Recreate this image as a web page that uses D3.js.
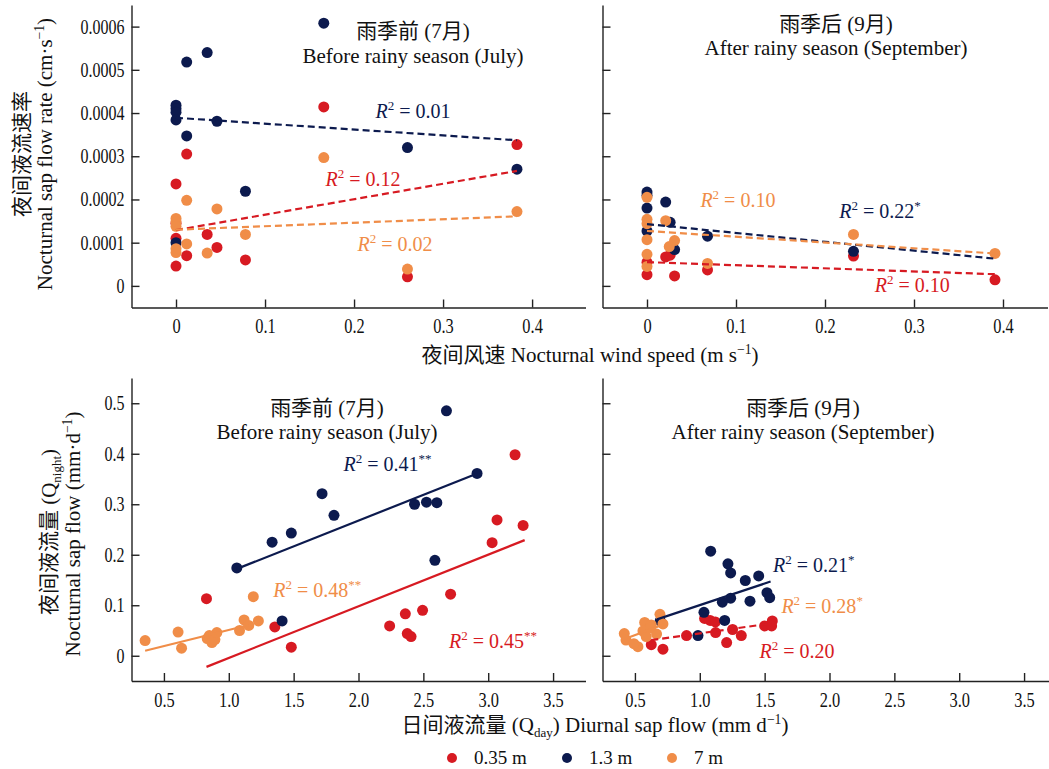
<!DOCTYPE html>
<html>
<head>
<meta charset="utf-8">
<script src="https://cdn.jsdelivr.net/npm/d3@7"></script>
<style>
  body { margin: 0; background: #fff; }
  svg text { font-family: "Liberation Serif", "Times New Roman", "Noto Sans CJK SC", serif; fill: #111; }
</style>
</head>
<body>
<svg width="1049" height="769"></svg>
<script>
// series order everywhere: 0.35 m, 1.3 m, 7 m
const depths = ["0.35 m", "1.3 m", "7 m"];
const colors = ["#d71a22", "#0c1a4e", "#f08d48"];

// nocturnal wind speed (m/s) vs nocturnal sap flow rate (cm/s)
const windJulyRed = [[0.166, 0.000414], [0.383, 0.000327], [0.012, 0.000305], [0, 0.000236], [0, 0.000145],
  [0, 0.000110], [0.035, 0.000119], [0.046, 0.000089], [0.012, 0.000070], [0.078, 0.000060], [0, 0.000046], [0.260, 0.000021]];
const windJulyNavy = [[0.166, 0.000608], [0.035, 0.000540], [0.012, 0.000518], [0, 0.000418], [0, 0.000410],
  [0, 0.000402], [0, 0.000384], [0.046, 0.000381], [0.012, 0.000347], [0.078, 0.000219], [0.260, 0.000320],
  [0.383, 0.000270], [0, 0.000100]];
const windJulyOrange = [[0.166, 0.000297], [0.012, 0.000198], [0.046, 0.000178], [0.383, 0.000172], [0, 0.000156],
  [0, 0.000148], [0, 0.000138], [0.078, 0.000119], [0.012, 0.000097], [0, 0.000086], [0, 0.000077],
  [0.035, 0.000076], [0.260, 0.000039]];
const windSepRed = [[0, 0.000026], [0, 0.000055], [0.021, 0.000067], [0.026, 0.000071], [0.031, 0.000023],
  [0.068, 0.000037], [0.232, 0.000069], [0.391, 0.000014]];
const windSepNavy = [[0, 0.000217], [0, 0.000210], [0, 0.000180], [0, 0.000127], [0.021, 0.000194], [0.026, 0.000147],
  [0.031, 0.000084], [0.068, 0.000115], [0.232, 0.000080]];
const windSepOrange = [[0, 0.000205], [0, 0.000154], [0, 0.000144], [0, 0.000107], [0, 0.000073], [0, 0.000045],
  [0.021, 0.000151], [0.031, 0.000105], [0.025, 0.000091], [0.068, 0.000052], [0.232, 0.000119], [0.391, 0.000075]];

// diurnal sap flow (mm/d) vs nocturnal sap flow (mm/d)
const dayJulyRed = [[0.828, 0.113], [1.355, 0.057], [1.482, 0.017], [2.240, 0.059], [2.361, 0.083], [2.376, 0.044],
  [2.405, 0.038], [2.494, 0.090], [2.710, 0.122], [3.030, 0.224], [3.068, 0.269], [3.207, 0.398], [3.269, 0.258]];
const dayJulyNavy = [[1.062, 0.174], [1.334, 0.225], [1.482, 0.243], [1.719, 0.321], [1.811, 0.278], [2.432, 0.300],
  [2.524, 0.304], [2.604, 0.303], [2.589, 0.189], [2.678, 0.485], [2.914, 0.361], [1.411, 0.069]];
const dayJulyOrange = [[0.355, 0.030], [0.609, 0.047], [0.636, 0.015], [0.834, 0.034], [0.850, 0.040], [0.870, 0.026],
  [0.893, 0.032], [0.908, 0.046], [1.083, 0.050], [1.118, 0.071], [1.154, 0.060], [1.189, 0.117], [1.228, 0.069]];
const daySepRed = [[1.037, 0.074], [1.080, 0.070], [1.120, 0.067], [1.500, 0.059], [1.559, 0.069], [1.554, 0.059],
  [1.253, 0.052], [1.320, 0.040], [1.122, 0.046], [1.207, 0.026], [0.898, 0.040], [0.716, 0.013], [0.626, 0.022]];
const daySepNavy = [[1.084, 0.207], [1.217, 0.182], [1.238, 0.164], [1.351, 0.149], [1.454, 0.158], [1.518, 0.125],
  [1.539, 0.115], [1.238, 0.114], [1.174, 0.106], [1.387, 0.108], [1.032, 0.086], [1.192, 0.070], [0.986, 0.040],
  [0.695, 0.069]];
const daySepOrange = [[0.693, 0.082], [0.575, 0.066], [0.626, 0.061], [0.716, 0.063], [0.562, 0.049], [0.667, 0.043],
  [0.418, 0.044], [0.431, 0.031], [0.523, 0.018], [0.492, 0.024], [0.587, 0.038], [0.620, 0.055]];

// fitted lines [x0, y0, x1, y1] per series
const windJulyFit = [[0, 0.000129, 0.383, 0.000266], [0, 0.000389, 0.383, 0.000337], [0, 0.000130, 0.383, 0.000161]];
const windSepFit = [[0, 0.000055, 0.391, 0.000027], [0, 0.000143, 0.391, 0.000063], [0, 0.000127, 0.391, 0.000075]];
const dayJulyFit = [[0.828, -0.022, 3.281, 0.229], [1.062, 0.172, 2.896, 0.359], [0.355, 0.010, 1.154, 0.061]];
const daySepFit = [[0.626, 0.031, 1.551, 0.064], [0.670, 0.072, 1.546, 0.147], [0.420, 0.033, 0.720, 0.062]];

// R² values and significance marks
const windJulyR2 = ["0.12", "0.01", "0.02"], windJulySig = ["", "", ""];
const windSepR2 = ["0.10", "0.22", "0.10"], windSepSig = ["", "*", ""];
const dayJulyR2 = ["0.45", "0.41", "0.48"], dayJulySig = ["**", "**", "**"];
const daySepR2 = ["0.20", "0.21", "0.28"], daySepSig = ["", "*", "*"];

const windTicks = [0, 0.1, 0.2, 0.3, 0.4];
const rateTicks = [0, 0.0001, 0.0002, 0.0003, 0.0004, 0.0005, 0.0006];
const dayTicks = [0.5, 1.0, 1.5, 2.0, 2.5, 3.0, 3.5];
const nightTicks = [0, 0.1, 0.2, 0.3, 0.4, 0.5];

const titleJuly = ["雨季前 (7月)", "Before rainy season (July)"];
const titleSep = ["雨季后 (9月)", "After rainy season (September)"];

const svg = d3.select("svg");

// scales
const xWindL = d3.scaleLinear().domain([-0.05, 0.46]).range([131.5, 585.5]);
const xWindR = d3.scaleLinear().domain([-0.05, 0.45]).range([602.5, 1047.5]);
const yRate = d3.scaleLinear().domain([-0.00005, 0.00065]).range([307.5, 5]);
const xDayL = d3.scaleLinear().domain([0.25, 3.75]).range([131.5, 585.5]);
const xDayR = d3.scaleLinear().domain([0.25, 3.75]).range([602.5, 1056.5]);
const yNight = d3.scaleLinear().domain([-0.05, 0.55]).range([681, 378]);

const fmt1 = d => d === 0 ? "0" : d.toFixed(1);
const fmt4 = d => d === 0 ? "0" : d.toFixed(4);

// text with italic / super / subscript pieces
function rich(sel, parts, size) {
    let shift = 0;
    parts.forEach(([t, kind]) => {
        const ts = sel.append("tspan").text(t);
        let target = 0;
        if (kind === "sup") { target = -size * 0.4; ts.attr("font-size", size * 0.65); }
        else if (kind === "sub") { target = size * 0.22; ts.attr("font-size", size * 0.62); }
        else if (kind === "it") ts.attr("font-style", "italic");
        if (target !== shift) { ts.attr("dy", target - shift); shift = target; }
    });
    return sel;
}

const panels = [
    { x: xWindL, y: yRate, xt: windTicks, yt: rateTicks, xf: fmt1, yf: fmt4, pad: 11,
      data: [windJulyRed, windJulyNavy, windJulyOrange], fit: windJulyFit, dash: [true, true, true],
      r2: windJulyR2, sig: windJulySig,
      r2At: [[0.168, 0.000232], [0.224, 0.000388], [0.204, 0.0000815]],
      title: titleJuly, titleAt: [413, 38, 62.5] },
    { x: xWindR, y: yRate, xt: windTicks, yt: rateTicks, xf: fmt1, yf: null, pad: 11,
      data: [windSepRed, windSepNavy, windSepOrange], fit: windSepFit, dash: [true, true, true],
      r2: windSepR2, sig: windSepSig,
      r2At: [[0.256, -0.0000148], [0.216, 0.000156], [0.060, 0.000182]],
      title: titleSep, titleAt: [836, 31, 54.5] },
    { x: xDayL, y: yNight, xt: dayTicks, yt: nightTicks, xf: fmt1, yf: fmt1, pad: 12,
      data: [dayJulyRed, dayJulyNavy, dayJulyOrange], fit: dayJulyFit, dash: [false, false, false],
      r2: dayJulyR2, sig: dayJulySig,
      r2At: [[2.698, 0.0147], [1.885, 0.366], [1.343, 0.117]],
      title: titleJuly, titleAt: [327, 415, 438.5] },
    { x: xDayR, y: yNight, xt: dayTicks, yt: nightTicks, xf: fmt1, yf: null, pad: 12,
      data: [daySepRed, daySepNavy, daySepOrange], fit: daySepFit, dash: [true, false, false],
      r2: daySepR2, sig: daySepSig,
      r2At: [[1.461, -0.004], [1.564, 0.165], [1.629, 0.084]],
      title: titleSep, titleAt: [803, 415, 438.5] }
];

panels.forEach(p => {
    const g = svg.append("g");
    const y0 = p.y.range()[0], x0 = p.x.range()[0];

    // axes, ticks pointing inward
    const ax = g.append("g").attr("transform", `translate(0,${y0})`)
        .call(d3.axisBottom(p.x).tickValues(p.xt).tickFormat(p.xf).tickSize(-8).tickSizeOuter(0).tickPadding(p.pad));
    const ay = g.append("g").attr("transform", `translate(${x0},0)`)
        .call(d3.axisLeft(p.y).tickValues(p.yt).tickFormat(p.yf || "").tickSize(-8).tickSizeOuter(0).tickPadding(7));
    [ax, ay].forEach(a => {
        a.selectAll("path, line").attr("stroke", "#222").attr("stroke-width", 1.4);
        a.selectAll("text").attr("font-size", 20).attr("fill", "#111");
    });
    ax.selectAll(".tick text").attr("transform", "scale(0.82,1)");
    ay.selectAll(".tick text").attr("x", 0).attr("transform", "translate(-7,0) scale(0.8,1)");

    // points
    p.data.forEach((pts, i) => {
        g.append("g").selectAll("circle").data(pts).join("circle")
            .attr("cx", d => p.x(d[0]))
            .attr("cy", d => p.y(d[1]))
            .attr("r", 5.5)
            .attr("fill", colors[i]);
    });

    // fitted lines
    p.fit.forEach((f, i) => {
        g.append("line")
            .attr("x1", p.x(f[0])).attr("y1", p.y(f[1]))
            .attr("x2", p.x(f[2])).attr("y2", p.y(f[3]))
            .attr("stroke", colors[i])
            .attr("stroke-width", 2.2)
            .attr("stroke-dasharray", p.dash[i] ? "7,4" : null);
    });

    // R² labels
    p.r2.forEach((v, i) => {
        const t = g.append("text")
            .attr("x", p.x(p.r2At[i][0]))
            .attr("y", p.y(p.r2At[i][1]))
            .attr("font-size", 20)
            .style("fill", colors[i]);
        const parts = [["R", "it"], ["2", "sup"], [" = " + v, ""]];
        if (p.sig[i]) parts.push([p.sig[i], "sup"]);
        rich(t, parts, 20);
    });

    // panel title
    p.title.forEach((s, k) => {
        g.append("text")
            .attr("x", p.titleAt[0])
            .attr("y", p.titleAt[1 + k])
            .attr("text-anchor", "middle")
            .attr("font-size", 21)
            .text(s);
    });
});

// axis titles
rich(svg.append("text").attr("x", 590).attr("y", 362).attr("text-anchor", "middle").attr("font-size", 21),
    [["夜间风速 Nocturnal wind speed (m s", ""], ["−1", "sup"], [")", ""]], 21);
rich(svg.append("text").attr("x", 595).attr("y", 732).attr("text-anchor", "middle").attr("font-size", 21),
    [["日间液流量 (Q", ""], ["day", "sub"], [") Diurnal sap flow (mm d", ""], ["−1", "sup"], [")", ""]], 21);

svg.append("text").attr("transform", "translate(29,154) rotate(-90)").attr("text-anchor", "middle")
    .attr("font-size", 21).text("夜间液流速率");
rich(svg.append("text").attr("transform", "translate(52,154) rotate(-90)").attr("text-anchor", "middle").attr("font-size", 21),
    [["Nocturnal sap flow rate (cm·s", ""], ["−1", "sup"], [")", ""]], 21);
rich(svg.append("text").attr("transform", "translate(56,532) rotate(-90)").attr("text-anchor", "middle").attr("font-size", 21),
    [["夜间液流量 (Q", ""], ["night", "sub"], [")", ""]], 21);
rich(svg.append("text").attr("transform", "translate(80,534) rotate(-90)").attr("text-anchor", "middle").attr("font-size", 21),
    [["Nocturnal sap flow (mm·d", ""], ["−1", "sup"], [")", ""]], 21);

// legend
const legendX = [452, 567, 672];
const legend = svg.append("g").selectAll("g").data(depths).join("g")
    .attr("transform", (d, i) => `translate(${legendX[i]},758)`);
legend.append("circle").attr("r", 5).attr("fill", (d, i) => colors[i]);
legend.append("text").attr("x", 22).attr("y", 6).attr("font-size", 19).text(d => d);
</script>
</body>
</html>
